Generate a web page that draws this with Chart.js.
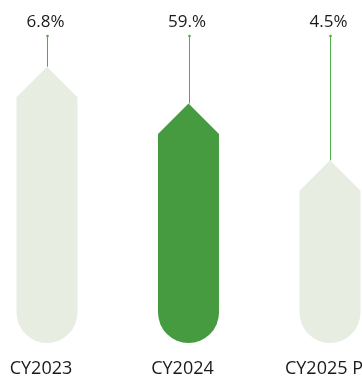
<!DOCTYPE html>
<html>
<head>
<meta charset="utf-8">
<script src="https://cdn.jsdelivr.net/npm/chart.js@4"></script>
<style>
  html, body { margin: 0; padding: 0; background: #fff; }
  #wrap { width: 362px; height: 376px; }
</style>
</head>
<body>
<div id="wrap"><canvas id="myChart"></canvas></div>
<script>
const categories = ['CY2023', 'CY2024', 'CY2025 P'];
const barValues = [90, 78, 59.5];
const growthLabels = ['6.8%', '59.%', '4.5%'];
const barColors = ['#e8ede2', '#469b40', '#e8ede2'];

const lineGreen = '#4fab4a';

// bars with a pointed top and a round bottom, plus the leader line and labels
const pointedBars = {
    id: 'pointedBars',
    beforeDatasetDraw(chart, args) {
        const ctx = chart.ctx;
        const area = chart.chartArea;
        const meta = args.meta;
        meta.data.forEach((bar, i) => {
            const hw = bar.width / 2;
            const x = bar.x, top = bar.y, base = bar.base;

            ctx.save();
            ctx.fillStyle = barColors[i];
            ctx.beginPath();
            ctx.moveTo(x, top);
            ctx.lineTo(x + hw, top + hw);
            ctx.lineTo(x + hw, base - hw);
            ctx.arc(x, base - hw, hw, 0, Math.PI);
            ctx.lineTo(x - hw, top + hw);
            ctx.closePath();
            ctx.fill();

            // leader line up to the label
            ctx.strokeStyle = lineGreen;
            ctx.lineWidth = 1;
            ctx.beginPath();
            ctx.moveTo(Math.round(x) + 0.5, area.top);
            ctx.lineTo(Math.round(x) + 0.5, top);
            ctx.stroke();
            ctx.fillStyle = lineGreen;
            ctx.beginPath();
            ctx.arc(Math.round(x) + 0.5, area.top, 1.3, 0, Math.PI * 2);
            ctx.fill();

            ctx.fillStyle = '#1a1a1a';
            ctx.textAlign = 'center';
            ctx.textBaseline = 'alphabetic';
            ctx.font = '17px "Open Sans"';
            ctx.fillText(growthLabels[i], x - 1.5, area.top - 9);

            // category names sit a little left of the bar centre
            ctx.font = '18px "Open Sans"';
            ctx.fillText(categories[i], x - 6, 374);
            ctx.restore();
        });
        return false;
    }
};

const renderChart = () => {
    var ctx = document.getElementById('myChart').getContext('2d');
    var myChart = new Chart(ctx, {
        type: 'bar',
        data: {
            labels: categories,
            datasets: [{
                data: barValues,
                backgroundColor: barColors,
                barThickness: 61
            }]
        },
        options: {
            responsive: true,
            maintainAspectRatio: false,
            animation: false,
            layout: { padding: { left: 47, right: 32, top: 36, bottom: 33 } },
            plugins: {
                legend: { display: false },
                tooltip: { enabled: false }
            },
            scales: {
                x: { display: false, offset: false },
                y: { display: false, min: 0, max: 100 }
            }
        },
        plugins: [pointedBars]
    });
};
renderChart();
</script>
</body>
</html>
